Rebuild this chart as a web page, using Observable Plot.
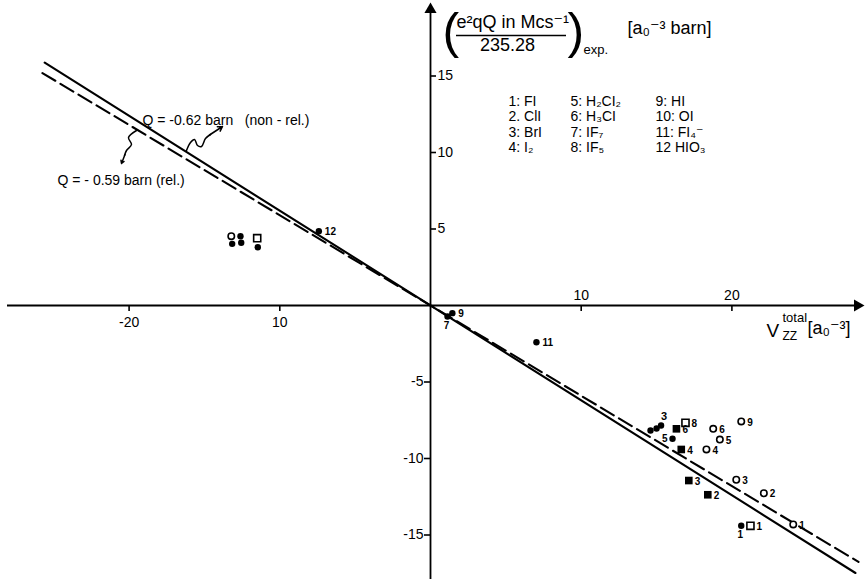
<!DOCTYPE html>
<html>
<head>
<meta charset="utf-8">
<script src="https://cdn.jsdelivr.net/npm/d3@7"></script>
<script src="https://cdn.jsdelivr.net/npm/@observablehq/plot@0.6"></script>
<style>
  body { margin: 0; background: #fff; }
  svg { display: block; }
</style>
</head>
<body>
<div id="chart"></div>
<script>
// Calculated total field gradient V_zz^total (a0^-3) and experimental e²qQ/235.28 (a0^-3 barn)
const vzz = [-13.22, -13.16, -12.61, -12.56, -11.50, -11.46, -7.41,
             1.13, 1.45, 7.03,
             14.60, 15.00, 15.30,
             16.32, 16.92, 16.06, 16.64, 18.31, 19.20, 18.76, 20.62,
             17.14, 18.40, 20.29, 22.12, 20.62, 21.23, 24.07];
const efg = [4.53, 4.03, 4.53, 4.10, 4.40, 3.81, 4.86,
             -0.72, -0.50, -2.40,
             -8.17, -8.04, -7.84,
             -8.06, -7.67, -8.71, -9.41, -9.41, -8.76, -8.06, -7.58,
             -11.44, -12.37, -11.39, -12.27, -14.40, -14.40, -14.31];
// fc filled circle, oc open circle, fs filled square, os open square
const kind = ["oc", "fc", "fc", "fc", "os", "fc", "fc",
              "fc", "fc", "fc",
              "fc", "fc", "fc",
              "fs", "os", "fc", "fs", "oc", "oc", "oc", "oc",
              "fs", "fs", "oc", "oc", "fc", "os", "oc"];
const tag = ["", "", "", "", "", "", "12",
             "7", "9", "11",
             "", "", "3",
             "6", "8", "5", "4", "4", "5", "6", "9",
             "3", "2", "3", "2", "1", "1", "1"];

// Quadrupole moments of 127I defining the two lines y = Q·x
const fitQ = [-0.62, -0.59];
const fitFrom = [-25.6, -25.75];
const fitTo = [28.2, 28.4];

// Axis ticks
const xTicks = [-20, -10, 10, 20];
const xTickText = ["-20", "10", "10", "20"];
const yTicks = [15, 10, 5, -5, -10, -15];

// Molecule key
const keyIds = ["1:", "2.", "3:", "4:", "5:", "6:", "7:", "8:", "9:", "10:", "11:", "12"];
const keyNames = ["FI", "ClI", "BrI", "I₂", "H₂CI₂", "H₃CI", "IF₇", "IF₅", "HI", "OI", "FI₄⁻", "HIO₃"];

// ---- drawing ----
const W = 866, H = 579, X0 = 430, Y0 = 305, KX = 15.07, KY = 15.3;
const xd = px => (px - X0) / KX;
const yd = py => (Y0 - py) / KY;

const labelSide = ["r", "r", "r", "r", "r", "r", "r",
                   "b", "r", "r",
                   "r", "r", "t",
                   "r", "r", "l", "r", "r", "r", "r", "r",
                   "r", "r", "r", "r", "b", "r", "r"];

const points = vzz.map((x, i) => ({x, y: efg[i], kind: kind[i], tag: tag[i], side: labelSide[i]}));
const fitLine = k => [fitFrom[k], fitTo[k]].map(x => ({x, y: fitQ[k] * x}));
const xTickRows = xTicks.map((v, i) => ({v, s: xTickText[i]}));

// wavy pointers from the lines to their labels
const wave1 = [[186,150],[190,142],[194,139],[197,145],[201,146],[205,138],[210,134]].map(([a, b]) => ({x: xd(a), y: yd(b)}));
const head1 = {x1: xd(209), y1: yd(134.5), x2: xd(222), y2: yd(126)};
const wave2 = [[136,130],[128,137],[131,144],[126,150],[124,155]].map(([a, b]) => ({x: xd(a), y: yd(b)}));
const head2 = {x1: xd(124.5), y1: yd(154), x2: xd(121), y2: yd(163)};

const font = "Liberation Sans, Arial, DejaVu Sans, sans-serif";
const T = (s, dx, dy, opts = {}) => Plot.text([s], {
  text: d => d, frameAnchor: "top-left", dx, dy,
  textAnchor: "start", lineAnchor: "middle", fontSize: 14, fill: "black", ...opts
});

const tickLen = 6;
const colX = [508, 570, 655], rowY = [101, 116, 132, 147];
const keyMarks = keyIds.map((id, i) => T(id + " " + keyNames[i], colX[Math.floor(i / 4)], rowY[i % 4], {fontSize: 14}));

const chart = Plot.plot({
  width: W, height: H, margin: 0,
  x: {domain: [xd(0), xd(W)], axis: null},
  y: {domain: [yd(H), yd(0)], axis: null},
  style: {fontFamily: font, background: "white", color: "black"},
  marks: [
    // axes
    Plot.ruleY([0], {x1: xd(7), x2: xd(856), stroke: "black", strokeWidth: 1.8}),
    Plot.dot([0], {x: xd(857), y: 0, symbol: "triangle", rotate: 90, r: 4.5, fill: "black"}),
    Plot.ruleX([0], {y1: yd(H), y2: yd(10), stroke: "black", strokeWidth: 1.8}),
    Plot.dot([0], {x: 0, y: yd(9), symbol: "triangle", r: 4.5, fill: "black"}),

    // ticks
    Plot.ruleX(xTicks, {x: d => d, y1: 0, y2: -tickLen / KY, stroke: "black", strokeWidth: 1.6}),
    Plot.ruleY(yTicks, {y: d => d, x1: 0, x2: d => (d > 0 ? tickLen : -tickLen) / KX, stroke: "black", strokeWidth: 1.6}),
    Plot.text(xTickRows, {filter: d => d.v < 0, x: "v", y: 0, text: "s", dy: 17, fontSize: 14}),
    Plot.text(xTickRows, {filter: d => d.v > 0, x: "v", y: 0, text: "s", dy: -10, fontSize: 14}),
    Plot.text(yTicks, {filter: d => d > 0, x: 0, y: d => d, text: d => String(d), dx: 7, textAnchor: "start", fontSize: 14}),
    Plot.text(yTicks, {filter: d => d < 0, x: 0, y: d => d, text: d => String(d), dx: -7, textAnchor: "end", fontSize: 14}),

    // Q lines
    Plot.line(fitLine(0), {x: "x", y: "y", stroke: "black", strokeWidth: 2.1}),
    Plot.line(fitLine(1), {x: "x", y: "y", stroke: "black", strokeWidth: 2.1, strokeDasharray: "15,6"}),

    // line labels and pointers
    Plot.text([`Q = ${fitQ[0]} barn   (non - rel.)`], {text: d => d, x: xd(142), y: yd(120), textAnchor: "start", fontSize: 14}),
    Plot.text([`Q = - ${Math.abs(fitQ[1])} barn (rel.)`], {text: d => d, x: xd(57), y: yd(180), textAnchor: "start", fontSize: 14}),
    Plot.line(wave1, {x: "x", y: "y", curve: "catmull-rom", stroke: "black", strokeWidth: 1.5}),
    Plot.arrow([head1], {x1: "x1", y1: "y1", x2: "x2", y2: "y2", stroke: "black", strokeWidth: 1.5, headLength: 8}),
    Plot.line(wave2, {x: "x", y: "y", curve: "catmull-rom", stroke: "black", strokeWidth: 1.5}),
    Plot.arrow([head2], {x1: "x1", y1: "y1", x2: "x2", y2: "y2", stroke: "black", strokeWidth: 1.5, headLength: 8}),

    // data points
    Plot.dot(points, {filter: d => d.kind === "fc", x: "x", y: "y", r: 3.2, fill: "black"}),
    Plot.dot(points, {filter: d => d.kind === "oc", x: "x", y: "y", r: 3.2, fill: "white", stroke: "black", strokeWidth: 1.6}),
    Plot.dot(points, {filter: d => d.kind === "fs", x: "x", y: "y", r: 4.3, symbol: "square", fill: "black"}),
    Plot.dot(points, {filter: d => d.kind === "os", x: "x", y: "y", r: 4.0, symbol: "square", fill: "white", stroke: "black", strokeWidth: 1.6}),
    Plot.text(points, {filter: d => d.tag && d.side === "r", x: "x", y: "y", text: "tag", dx: 6, dy: 1, textAnchor: "start", fontSize: 10, fontWeight: "bold"}),
    Plot.text(points, {filter: d => d.tag && d.side === "l", x: "x", y: "y", text: "tag", dx: -5, dy: 0, textAnchor: "end", fontSize: 10, fontWeight: "bold"}),
    Plot.text(points, {filter: d => d.tag && d.side === "b", x: "x", y: "y", text: "tag", dx: -1, dy: 9, fontSize: 10, fontWeight: "bold"}),
    Plot.text(points, {filter: d => d.tag && d.side === "t", x: "x", y: "y", text: "tag", dx: 3, dy: -9, fontSize: 11, fontWeight: "bold"}),

    // vertical axis title
    T("(", 442, 31, {fontSize: 50}),
    T("e²qQ in Mcs⁻¹", 456, 22, {fontSize: 18}),
    Plot.ruleY([yd(35)], {x1: xd(456), x2: xd(566), stroke: "black", strokeWidth: 1.6}),
    T("235.28", 507, 45, {fontSize: 18, textAnchor: "middle"}),
    T(")", 567, 31, {fontSize: 50}),
    T("exp.", 583, 49, {fontSize: 13}),
    T("[a₀⁻³ barn]", 627, 28, {fontSize: 18}),

    // horizontal axis title
    T("V", 766, 330, {fontSize: 19}),
    T("ZZ", 782, 336, {fontSize: 12}),
    T("total", 782, 317, {fontSize: 13}),
    T("[a₀⁻³]", 807, 328, {fontSize: 18}),

    // molecule key
    ...keyMarks
  ]
});

document.getElementById("chart").appendChild(chart);
</script>
</body>
</html>
